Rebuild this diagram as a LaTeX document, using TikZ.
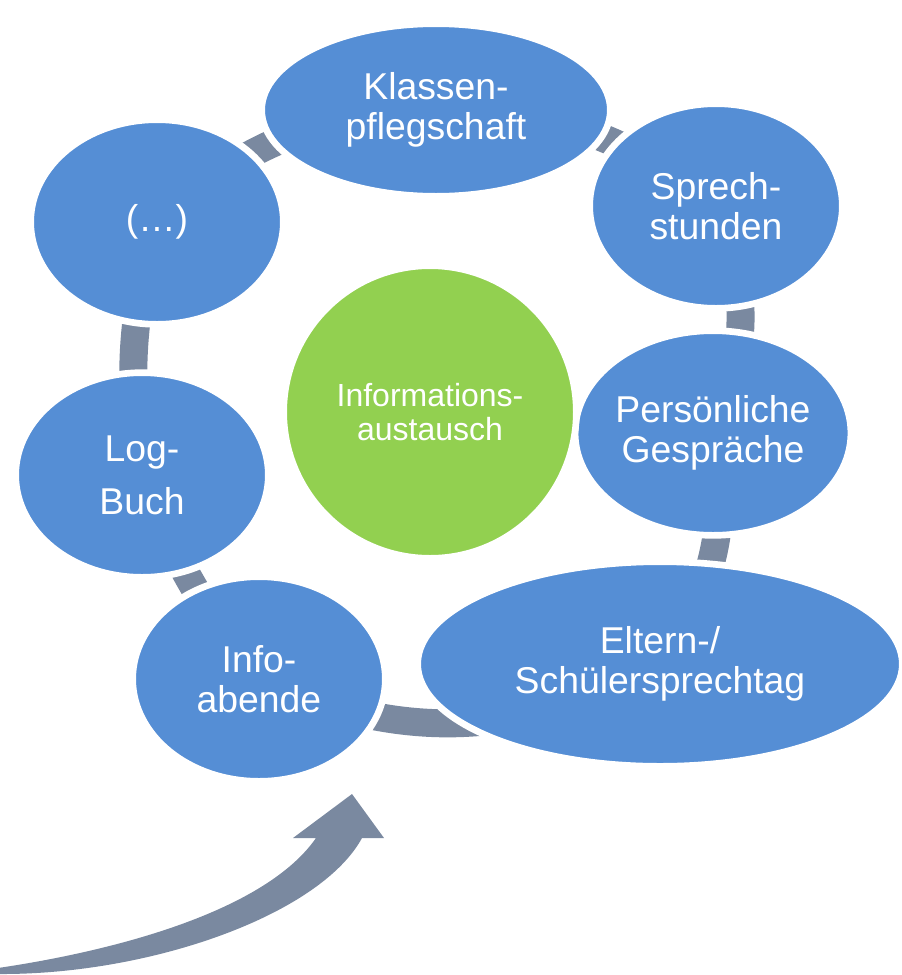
\documentclass[tikz,border=0pt]{standalone}
\usepackage{fontspec}
\setmainfont{Liberation Sans}
\usetikzlibrary{shapes.geometric,backgrounds}
\definecolor{myblue}{RGB}{85,142,213}
\definecolor{mygreen}{RGB}{146,208,80}
\definecolor{mygray}{RGB}{122,137,160}
\tikzset{every picture/.style={line width=0.75pt}}

\begin{document}
\begin{tikzpicture}[x=0.75pt,y=0.75pt,yscale=-1,xscale=1,
  blob/.style={ellipse, fill=myblue, draw=white, line width=5pt, text=white, align=center, inner sep=0pt, minimum width=189.5pt, minimum height=153.5pt, font=\fontsize{28}{30}\selectfont},
  hub/.style={circle, fill=mygreen, draw=white, line width=5pt, text=white, align=center, inner sep=0pt, minimum size=219.5pt, font=\fontsize{24}{25}\selectfont},
  ring/.style={draw=mygray, line width=21pt}]
\useasboundingbox (0,0) rectangle (902,975);

%Shape: Ellipse
\node [blob, minimum width=261.5pt, minimum height=129.5pt] (klassen) at (436,110) {Klassen-\\pflegschaft};
%Shape: Ellipse
\node [blob] (sprech) at (716,206) {Sprech-\\stunden};
%Shape: Ellipse
\node [blob, minimum width=197.75pt] (persoen) at (713,433) {Pers\"onliche\\Gespr\"ache};
%Shape: Ellipse
\node [blob, minimum width=363.5pt] (eltern) at (660,664) {Eltern-/\\Sch\"ulersprechtag};
%Shape: Ellipse
\node [blob] (info) at (259,679) {Info-\\abende};
%Shape: Ellipse
\node [blob] (logbuch) at (142,475) {Log-\\[10pt]Buch};
%Shape: Ellipse
\node [blob] (dots) at (157,222) {(\dots)};
%Shape: Circle
\node [hub] (austausch) at (430,412) {Informations-\\austausch};

%Curve Lines
\begin{pgfonlayer}{background}
\draw [ring] (dots.center) to [bend right=20] (klassen.center);
\draw [ring] (klassen.center) to [bend right=19] (sprech.center);
\draw [ring] (sprech.center) to [bend right=23] (persoen.center);
\draw [ring] (persoen.center) to [bend right=23] (eltern.center);
\draw [ring] (eltern.center) to [bend right=26] (info.center);
\draw [ring] (info.center) to [bend right=9] (logbuch.center);
\draw [ring] (logbuch.center) to [bend right=12] (dots.center);
\end{pgfonlayer}

%Shape: Arrow
\fill [mygray] (-2,968) .. controls (120,950) and (266,910) .. (316,838) -- (293,838) -- (352,794) -- (384,838) -- (362,838) .. controls (320,915) and (150,975) .. (-2,974) -- cycle ;

\end{tikzpicture}
\end{document}
